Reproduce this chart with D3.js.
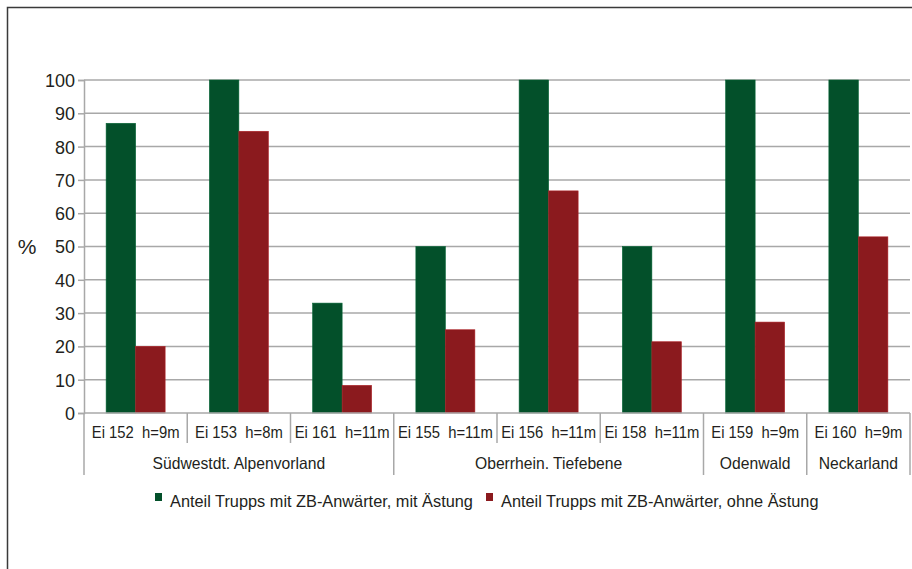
<!DOCTYPE html>
<html>
<head>
<meta charset="utf-8">
<script src="https://cdn.jsdelivr.net/npm/d3@7"></script>
<style>
  html, body { margin: 0; padding: 0; background: #fff; }
  svg { display: block; }
  text { font-family: "Liberation Sans", Arial, sans-serif; fill: #231f20; }
</style>
</head>
<body>
<svg id="chart" width="912" height="569"></svg>
<script>
// Trial plots (oak stands) and their regions
const plots = ["Ei 152  h=9m", "Ei 153  h=8m", "Ei 161  h=11m", "Ei 155  h=11m",
               "Ei 156  h=11m", "Ei 158  h=11m", "Ei 159  h=9m", "Ei 160  h=9m"];
const regions = [
  { name: "Südwestdt. Alpenvorland", from: 0, to: 2 },
  { name: "Oberrhein. Tiefebene", from: 3, to: 5 },
  { name: "Odenwald", from: 6, to: 6 },
  { name: "Neckarland", from: 7, to: 7 }
];
const seriesNames = ["Anteil Trupps mit ZB-Anwärter, mit Ästung",
                     "Anteil Trupps mit ZB-Anwärter, ohne Ästung"];
const withPruning    = [87, 100, 33, 50, 100, 50, 100, 100];
const withoutPruning = [20, 84.6, 8.3, 25, 66.7, 21.4, 27.3, 52.9];
const yTicks = [0, 10, 20, 30, 40, 50, 60, 70, 80, 90, 100];
const colors = ["#03502a", "#8b1a1e"];

const svg = d3.select("#chart");

// squeeze text horizontally to imitate a condensed typeface
function condense(sel, factor) {
  sel.each(function () {
    const w = this.getComputedTextLength();
    d3.select(this).attr("textLength", w * factor).attr("lengthAdjust", "spacingAndGlyphs");
  });
}

// frame around the figure
svg.append("path")
  .attr("d", "M7.5,569 V7.5 H912")
  .attr("fill", "none").attr("stroke", "#3a3a3a").attr("stroke-width", 1.5);

const plotLeft = 84, plotRight = 910, plotTop = 80, plotBottom = 413;

const x = d3.scaleBand().domain(d3.range(plots.length)).range([plotLeft, plotRight]).padding(0);
const xs = d3.scaleBand().domain([0, 1]).range([0, x.bandwidth()]).paddingInner(0).paddingOuter(0.75);
const y = d3.scaleLinear().domain([0, 100]).range([plotBottom, plotTop]);

// horizontal gridlines
svg.append("g").selectAll("line").data(yTicks.filter(d => d > 0)).join("line")
  .attr("x1", plotLeft).attr("x2", plotRight)
  .attr("y1", d => y(d)).attr("y2", d => y(d))
  .attr("stroke", "#a8a8a8").attr("stroke-width", 1.5);

// y axis
const yAxis = svg.append("g").attr("transform", `translate(${plotLeft},0)`)
  .call(d3.axisLeft(y).tickValues(yTicks).tickSize(6).tickPadding(3));
yAxis.attr("font-family", null).attr("font-size", null);
yAxis.select(".domain").attr("stroke", "#a8a8a8").attr("stroke-width", 1.5);
yAxis.selectAll(".tick line").attr("stroke", "#a8a8a8").attr("stroke-width", 1.5);
yAxis.selectAll(".tick text").attr("font-size", 18).attr("fill", "#231f20").attr("dy", "0.36em");

svg.append("text").attr("x", 27).attr("y", y(50)).attr("dy", "0.36em")
  .attr("text-anchor", "middle").attr("font-size", 21).text("%");

// bars
const series = [withPruning, withoutPruning];
series.forEach((vals, si) => {
  svg.append("g").selectAll("rect").data(vals).join("rect")
    .attr("x", (d, i) => x(i) + xs(si))
    .attr("width", xs.bandwidth())
    .attr("y", d => y(d))
    .attr("height", d => y(0) - y(d))
    .attr("fill", colors[si])
    .attr("stroke", d3.color(colors[si]).brighter(0.6))
    .attr("stroke-width", 0.6);
});

// baseline
svg.append("line").attr("x1", plotLeft).attr("x2", plotRight)
  .attr("y1", plotBottom).attr("y2", plotBottom)
  .attr("stroke", "#a8a8a8").attr("stroke-width", 1.5);

// category separators: short between plots, long between regions
const regionEdges = new Set([0, ...regions.map(r => r.to + 1)]);
const sep = svg.append("g");
d3.range(plots.length + 1).forEach(i => {
  const xx = i < plots.length ? x(i) : plotRight;
  sep.append("line").attr("x1", xx).attr("x2", xx)
    .attr("y1", plotBottom).attr("y2", regionEdges.has(i) ? 475 : 443)
    .attr("stroke", "#a8a8a8").attr("stroke-width", 1.5);
});

// plot labels
svg.append("g").selectAll("text").data(plots).join("text")
  .attr("x", (d, i) => x(i) + x.bandwidth() / 2)
  .attr("y", 438)
  .attr("text-anchor", "middle").attr("font-size", 16.3)
  .attr("xml:space", "preserve")
  .style("white-space", "pre")
  .text(d => d)
  .call(condense, 0.91);

// region labels
svg.append("g").selectAll("text").data(regions).join("text")
  .attr("x", d => (x(d.from) + x(d.to) + x.bandwidth()) / 2)
  .attr("y", 468.5)
  .attr("text-anchor", "middle").attr("font-size", 16.5)
  .text(d => d.name)
  .call(condense, 0.95);

// legend
const legendItems = [{ x: 155, i: 0 }, { x: 486, i: 1 }];
legendItems.forEach(it => {
  svg.append("rect").attr("x", it.x).attr("y", 493).attr("width", 7).attr("height", 8)
    .attr("fill", colors[it.i]);
  svg.append("text").attr("x", it.x + 15).attr("y", 507)
    .attr("font-size", 17).text(seriesNames[it.i])
    .call(condense, 0.96);
});
</script>
</body>
</html>
